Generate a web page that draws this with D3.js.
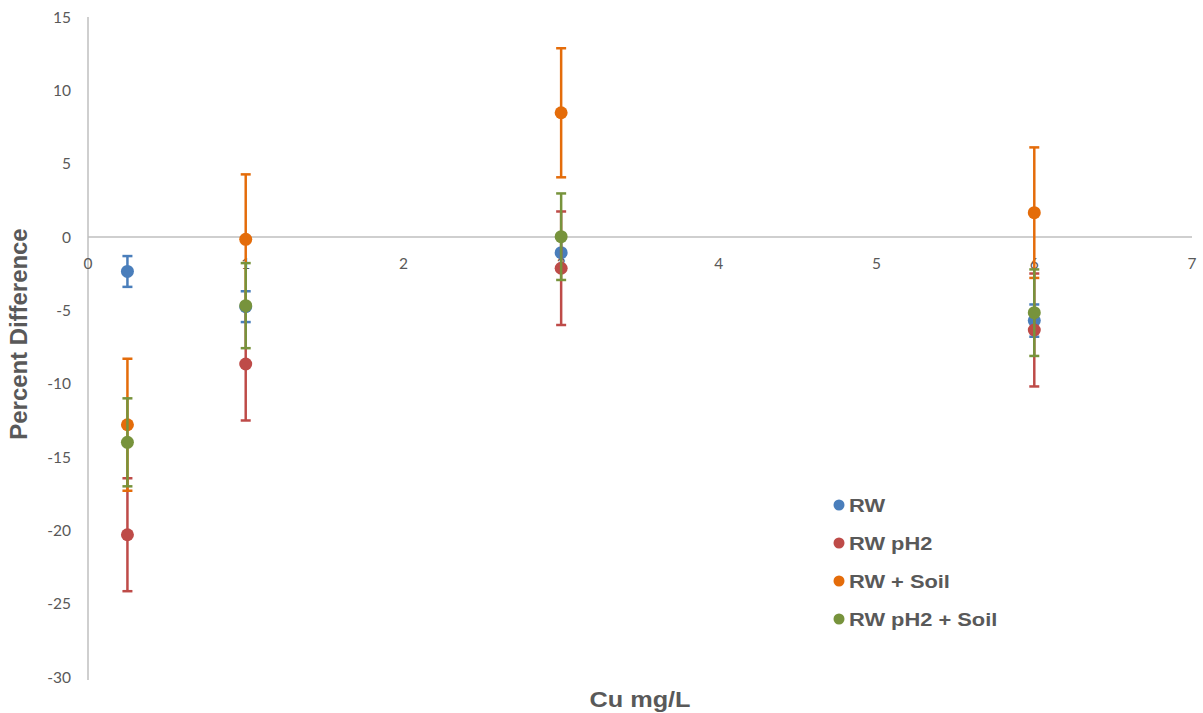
<!DOCTYPE html>
<html>
<head>
<meta charset="utf-8">
<script src="https://cdn.jsdelivr.net/npm/d3@7"></script>
<style>
  html, body { margin: 0; padding: 0; background: #fff; }
  svg { display: block; }
</style>
</head>
<body>
<svg id="chart" width="1203" height="713"></svg>
<script>
// ---- Data ----
const seriesNames = ["RW", "RW pH2", "RW + Soil", "RW pH2 + Soil"];
const seriesColors = ["#4a7ebb", "#be4b48", "#e46c0a", "#77933c"];
const xValues = [0.25, 1, 3, 6];
const rwValues = [-2.35, -4.75, -1.07, -5.7];
const rwErr = [1.05, 1.05, 1.0, 1.1];
const rwPh2Values = [-20.3, -8.66, -2.13, -6.34];
const rwPh2Err = [3.85, 3.85, 3.87, 3.85];
const rwSoilValues = [-12.8, -0.16, 8.47, 1.66];
const rwSoilErr = [4.5, 4.43, 4.4, 4.45];
const rwPh2SoilValues = [-14.0, -4.68, 0.02, -5.16];
const rwPh2SoilErr = [3.0, 2.9, 2.95, 2.95];
const xTicks = [0, 1, 2, 3, 4, 5, 6, 7];
const yTicks = [15, 10, 5, 0, -5, -10, -15, -20, -25, -30];

const allValues = [rwValues, rwPh2Values, rwSoilValues, rwPh2SoilValues];
const allErr = [rwErr, rwPh2Err, rwSoilErr, rwPh2SoilErr];

// ---- Layout ----
const svg = d3.select("#chart");
const x = d3.scaleLinear().domain([0, 7]).range([88, 1192]);
const y = d3.scaleLinear().domain([-30, 15]).range([677, 17]);
const axisColor = "#bfbfbf";
const textColor = "#595959";

// Y axis line
svg.append("line")
  .attr("x1", x(0)).attr("x2", x(0))
  .attr("y1", y(15)).attr("y2", y(-30) + 3)
  .attr("stroke", axisColor).attr("stroke-width", 1.5);

// X axis line at zero
svg.append("line")
  .attr("x1", x(0)).attr("x2", x(7))
  .attr("y1", y(0)).attr("y2", y(0))
  .attr("stroke", axisColor).attr("stroke-width", 1.5);

// Y tick labels
svg.append("g").selectAll("text").data(yTicks).join("text")
  .attr("x", 71)
  .attr("y", d => y(d))
  .attr("dy", "0.36em")
  .attr("text-anchor", "end")
  .attr("font-family", "Lato, 'Open Sans', sans-serif")
  .attr("font-size", 15.5)
  .attr("fill", textColor)
  .text(d => d);

// X tick labels
svg.append("g").selectAll("text").data(xTicks).join("text")
  .attr("x", d => x(d))
  .attr("y", y(0) + 32)
  .attr("text-anchor", "middle")
  .attr("font-family", "Lato, 'Open Sans', sans-serif")
  .attr("font-size", 15.5)
  .attr("fill", textColor)
  .text(d => d);

// Axis titles
svg.append("text")
  .attr("transform", `translate(27, ${(y(15) + y(-30)) / 2 - 13}) rotate(-90) scale(1.04,1)`)
  .attr("text-anchor", "middle")
  .attr("font-family", "'Liberation Sans', Arial, sans-serif")
  .attr("font-weight", "bold")
  .attr("font-size", 23)
  .attr("fill", textColor)
  .text("Percent Difference");

svg.append("text")
  .attr("transform", "translate(640, 707) scale(1.15,1)")
  .attr("text-anchor", "middle")
  .attr("font-family", "'Liberation Sans', Arial, sans-serif")
  .attr("font-weight", "bold")
  .attr("font-size", 22)
  .attr("fill", textColor)
  .text("Cu mg/L");

// Series: error bars then markers
const capW = 5;
seriesNames.forEach((name, si) => {
  const g = svg.append("g");
  const color = seriesColors[si];
  const pts = xValues.map((xv, i) => ({ x: xv, v: allValues[si][i], e: allErr[si][i] }));
  g.selectAll("line.bar").data(pts).join("line")
    .attr("x1", d => x(d.x)).attr("x2", d => x(d.x))
    .attr("y1", d => y(d.v + d.e)).attr("y2", d => y(d.v - d.e))
    .attr("stroke", color).attr("stroke-width", 2.5);
  g.selectAll("line.capTop").data(pts).join("line")
    .attr("x1", d => x(d.x) - capW).attr("x2", d => x(d.x) + capW)
    .attr("y1", d => y(d.v + d.e)).attr("y2", d => y(d.v + d.e))
    .attr("stroke", color).attr("stroke-width", 2.5);
  g.selectAll("line.capBot").data(pts).join("line")
    .attr("x1", d => x(d.x) - capW).attr("x2", d => x(d.x) + capW)
    .attr("y1", d => y(d.v - d.e)).attr("y2", d => y(d.v - d.e))
    .attr("stroke", color).attr("stroke-width", 2.5);
  g.selectAll("circle").data(pts).join("circle")
    .attr("cx", d => x(d.x)).attr("cy", d => y(d.v))
    .attr("r", 6.5)
    .attr("fill", color);
});

// Legend
const legend = svg.append("g");
const legendY = [505, 543, 581, 619];
seriesNames.forEach((name, i) => {
  legend.append("circle")
    .attr("cx", 839).attr("cy", legendY[i]).attr("r", 5.5)
    .attr("fill", seriesColors[i]);
  legend.append("text")
    .attr("transform", `translate(849, ${legendY[i]}) scale(1.15,1)`)
    .attr("dy", "0.36em")
    .attr("font-family", "'Liberation Sans', Arial, sans-serif")
    .attr("font-weight", "bold")
    .attr("font-size", 19)
    .attr("fill", textColor)
    .text(name);
});
</script>
</body>
</html>
